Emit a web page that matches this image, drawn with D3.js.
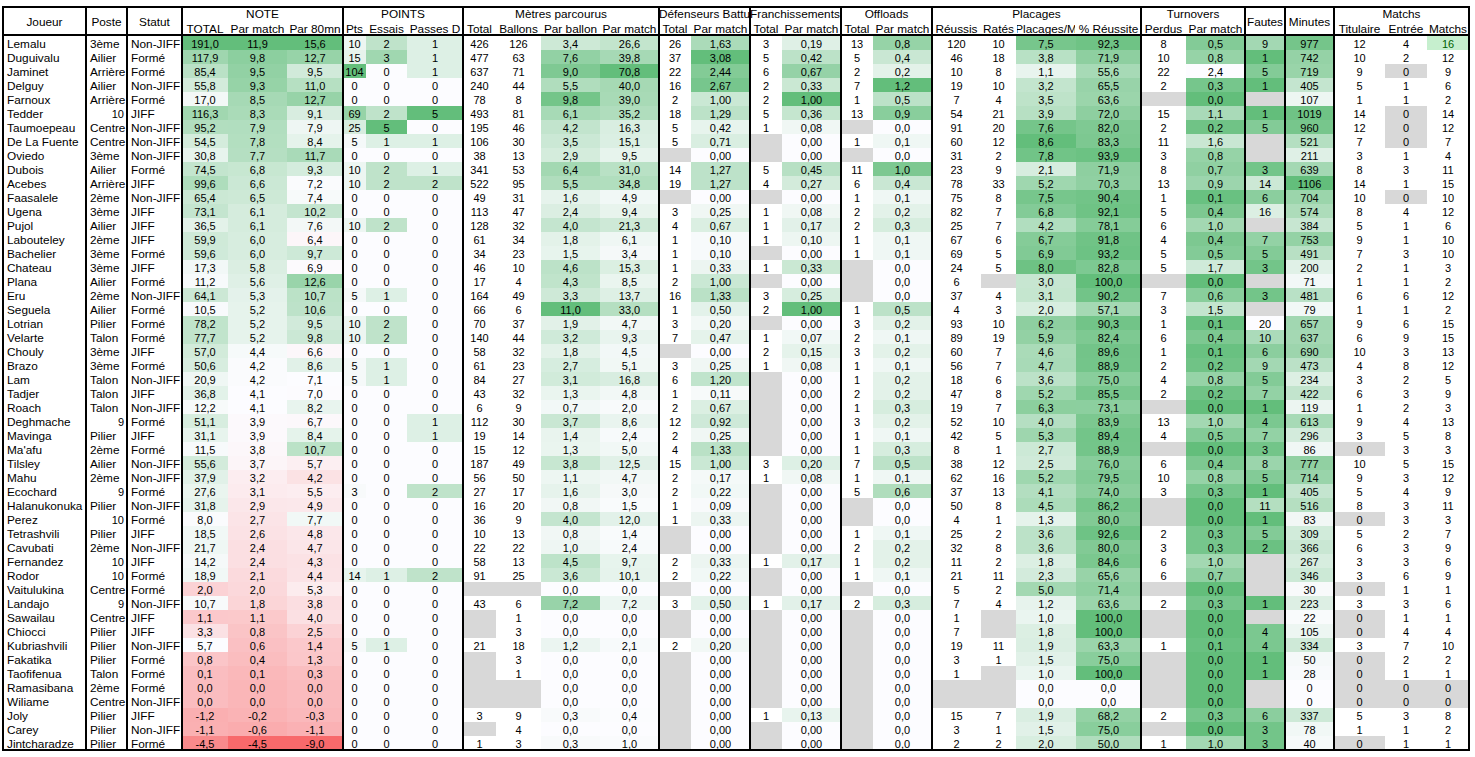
<!DOCTYPE html>
<html><head><meta charset="utf-8">
<script src="https://cdn.jsdelivr.net/npm/d3@7"></script>
<style>
body{margin:0;background:#fff}
text{font-family:Arial,"Liberation Sans",sans-serif;font-size:11px;fill:#000}
text.lbl{font-size:11.8px}
</style>
</head><body>
<svg id="c" width="1475" height="757"></svg>
<script>
// ---------------- DATA ----------------
const players=["Lemalu","Duguivalu","Jaminet","Delguy","Farnoux","Tedder","Taumoepeau","De La Fuente","Oviedo","Dubois","Acebes","Faasalele","Ugena","Pujol","Labouteley","Bachelier","Chateau","Plana","Eru","Seguela","Lotrian","Velarte","Chouly","Brazo","Lam","Tadjer","Roach","Deghmache","Mavinga","Ma'afu","Tilsley","Mahu","Ecochard","Halanukonuka","Perez","Tetrashvili","Cavubati","Fernandez","Rodor","Vaitulukina","Landajo","Sawailau","Chiocci","Kubriashvili","Fakatika","Taofifenua","Ramasibana","Wiliame","Joly","Carey","Jintcharadze"];
const postes=["3ème","Ailier","Arrière","Ailier","Arrière","10","Centre","Centre","3ème","Ailier","Arrière","2ème","3ème","Ailier","2ème","3ème","3ème","Ailier","2ème","Ailier","Pilier","Talon","3ème","3ème","Talon","Talon","Talon","9","Pilier","2ème","Ailier","2ème","9","Pilier","10","Pilier","2ème","10","10","Centre","9","Centre","Pilier","Pilier","Pilier","Talon","2ème","Centre","Pilier","Pilier","Pilier"];
const statuts=["Non-JIFF","Formé","Formé","Non-JIFF","Formé","JIFF","Non-JIFF","Non-JIFF","Non-JIFF","Formé","JIFF","Non-JIFF","JIFF","JIFF","JIFF","Formé","JIFF","Formé","Non-JIFF","Formé","Formé","Formé","JIFF","Formé","Non-JIFF","JIFF","Non-JIFF","Formé","JIFF","Formé","Non-JIFF","Non-JIFF","Formé","Non-JIFF","Formé","JIFF","Non-JIFF","JIFF","Formé","Formé","Non-JIFF","JIFF","JIFF","Non-JIFF","Formé","Formé","Formé","Non-JIFF","JIFF","Non-JIFF","Formé"];

const noteTotal=[191.0,117.9,85.4,55.8,17.0,116.3,95.2,54.5,30.8,74.5,99.6,65.4,73.1,36.5,59.9,59.6,17.3,11.2,64.1,10.5,78.2,77.7,57.0,50.6,20.9,36.8,12.2,51.1,31.1,11.5,55.6,37.9,27.6,31.8,8.0,18.5,21.7,14.2,18.9,2.0,10.7,1.1,3.3,5.7,0.8,0.1,0.0,0.0,-1.2,-1.1,-4.5];
const noteMatch=[11.9,9.8,9.5,9.3,8.5,8.3,7.9,7.8,7.7,6.8,6.6,6.5,6.1,6.1,6.0,6.0,5.8,5.6,5.3,5.2,5.2,5.2,4.4,4.2,4.2,4.1,4.1,3.9,3.9,3.8,3.7,3.2,3.1,2.9,2.7,2.6,2.4,2.4,2.1,2.0,1.8,1.1,0.8,0.6,0.4,0.1,0.0,0.0,-0.2,-0.6,-4.5];
const note80=[15.6,12.7,9.5,11.0,12.7,9.1,7.9,8.4,11.7,9.3,7.2,7.4,10.2,7.6,6.4,9.7,6.9,12.6,10.7,10.6,9.5,9.8,6.6,8.6,7.1,7.0,8.2,6.7,8.4,10.7,5.7,4.2,5.5,4.9,7.7,4.8,4.7,4.3,4.4,5.3,3.8,4.0,2.5,1.4,1.3,0.3,0.0,0.0,-0.3,-1.1,-9.0];

const pts=[10,15,104,0,0,69,25,5,0,10,10,0,0,10,0,0,0,0,5,0,10,10,0,5,5,0,0,0,0,0,0,0,3,0,0,0,0,0,14,0,0,0,0,5,0,0,0,0,0,0,0];
const essais=[2,3,0,0,0,2,5,1,0,2,2,0,0,2,0,0,0,0,1,0,2,2,0,1,1,0,0,0,0,0,0,0,0,0,0,0,0,0,1,0,0,0,0,1,0,0,0,0,0,0,0];
const passes=[1,1,1,0,0,5,0,1,0,1,2,0,0,0,0,0,0,0,0,0,0,0,0,0,0,0,0,1,1,0,0,0,2,0,0,0,0,0,2,0,0,0,0,0,0,0,0,0,0,0,0];

const metres=[426,477,637,240,78,493,195,106,38,341,522,49,113,128,61,34,46,17,164,66,70,140,58,61,84,43,6,112,19,15,187,56,27,16,36,10,22,58,91,null,43,null,null,21,null,null,null,null,3,null,1];
const ballons=[126,63,71,44,8,81,46,30,13,53,95,31,47,32,34,23,10,4,49,6,37,44,32,23,27,32,9,30,14,12,49,50,17,20,9,13,22,13,25,null,6,1,3,18,3,1,null,null,9,4,3];
const metresBallon=[3.4,7.6,9.0,5.5,9.8,6.1,4.2,3.5,2.9,6.4,5.5,1.6,2.4,4.0,1.8,1.5,4.6,4.3,3.3,11.0,1.9,3.2,1.8,2.7,3.1,1.3,0.7,3.7,1.4,1.3,3.8,1.1,1.6,0.8,4.0,0.8,1.0,4.5,3.6,0.0,7.2,0.0,0.0,1.2,0.0,0.0,0.0,0.0,0.3,0.0,0.3];
const metresMatch=[26.6,39.8,70.8,40.0,39.0,35.2,16.3,15.1,9.5,31.0,34.8,4.9,9.4,21.3,6.1,3.4,15.3,8.5,13.7,33.0,4.7,9.3,4.5,5.1,16.8,4.8,2.0,8.6,2.4,5.0,12.5,4.7,3.0,1.5,12.0,1.4,2.4,9.7,10.1,0.0,7.2,0.0,0.0,2.1,0.0,0.0,0.0,0.0,0.4,0.0,1.0];

const defTotal=[26,37,22,16,2,18,5,5,null,14,19,null,3,4,1,1,1,2,16,1,3,7,null,3,6,1,2,12,2,4,15,2,2,1,1,null,null,2,2,null,3,null,null,2,null,null,null,null,null,null,null];
const defMatch=[1.63,3.08,2.44,2.67,1.00,1.29,0.42,0.71,0.00,1.27,1.27,0.00,0.25,0.67,0.10,0.10,0.33,1.00,1.33,0.50,0.20,0.47,0.00,0.25,1.20,0.11,0.67,0.92,0.25,1.33,1.00,0.17,0.22,0.09,0.33,0.00,0.00,0.33,0.22,0.00,0.50,0.00,0.00,0.20,0.00,0.00,0.00,0.00,0.00,0.00,0.00];

const franTotal=[3,5,6,2,2,5,1,null,null,5,4,null,1,1,1,null,1,null,3,2,null,1,2,1,null,null,null,null,null,null,3,1,null,null,null,null,null,1,null,null,1,null,null,null,null,null,null,null,1,null,null];
const franMatch=[0.19,0.42,0.67,0.33,1.00,0.36,0.08,0.00,0.00,0.45,0.27,0.00,0.08,0.17,0.10,0.00,0.33,0.00,0.25,1.00,0.00,0.07,0.15,0.08,0.00,0.00,0.00,0.00,0.00,0.00,0.20,0.08,0.00,0.00,0.00,0.00,0.00,0.17,0.00,0.00,0.17,0.00,0.00,0.00,0.00,0.00,0.00,0.00,0.13,0.00,0.00];

const offTotal=[13,5,2,7,1,13,null,1,null,11,6,1,2,2,1,1,null,null,null,1,3,2,3,1,1,2,1,3,1,1,7,1,5,null,null,1,2,1,1,null,2,null,null,null,null,null,null,null,null,null,null];
const offMatch=[0.8,0.4,0.2,1.2,0.5,0.9,0.0,0.1,0.0,1.0,0.4,0.1,0.2,0.3,0.1,0.1,0.0,0.0,0.0,0.5,0.2,0.1,0.2,0.1,0.2,0.2,0.3,0.2,0.1,0.3,0.5,0.1,0.6,0.0,0.0,0.1,0.2,0.2,0.1,0.0,0.3,0.0,0.0,0.0,0.0,0.0,0.0,0.0,0.0,0.0,0.0];

const placReussis=[120,46,10,19,7,54,91,60,31,23,78,75,82,25,67,69,24,6,37,4,93,89,60,56,18,47,19,52,42,8,38,62,37,50,4,25,32,11,21,5,7,1,7,19,3,1,null,null,15,3,2];
const placRates=[10,18,8,10,4,21,20,12,2,9,33,8,7,7,6,5,5,null,4,3,10,19,7,7,6,8,7,10,5,1,12,16,13,8,1,2,8,2,11,2,4,null,null,11,1,null,null,null,7,1,2];
const placParMatch=[7.5,3.8,1.1,3.2,3.5,3.9,7.6,8.6,7.8,2.1,5.2,7.5,6.8,4.2,6.7,6.9,8.0,3.0,3.1,2.0,6.2,5.9,4.6,4.7,3.6,5.2,6.3,4.0,5.3,2.7,2.5,5.2,4.1,4.5,1.3,3.6,3.6,1.8,2.3,5.0,1.2,1.0,1.8,1.9,1.5,1.0,0.0,0.0,1.9,1.5,2.0];
const placPct=[92.3,71.9,55.6,65.5,63.6,72.0,82.0,83.3,93.9,71.9,70.3,90.4,92.1,78.1,91.8,93.2,82.8,100.0,90.2,57.1,90.3,82.4,89.6,88.9,75.0,85.5,73.1,83.9,89.4,88.9,76.0,79.5,74.0,86.2,80.0,92.6,80.0,84.6,65.6,71.4,63.6,100.0,100.0,63.3,75.0,100.0,0.0,0.0,68.2,75.0,50.0];

const toPerdus=[8,10,22,2,null,15,2,11,3,8,13,1,5,6,4,5,5,null,7,3,1,6,1,2,4,2,null,13,4,null,6,10,3,null,null,2,3,6,6,null,2,null,null,1,null,null,null,null,2,null,1];
const toMatch=[0.5,0.8,2.4,0.3,0.0,1.1,0.2,1.6,0.8,0.7,0.9,0.1,0.4,1.0,0.4,0.5,1.7,0.0,0.6,1.5,0.1,0.4,0.1,0.2,0.8,0.2,0.0,1.0,0.5,0.0,0.4,0.8,0.3,0.0,0.0,0.3,0.3,1.0,0.7,0.0,0.3,0.0,0.0,0.1,0.0,0.0,0.0,0.0,0.3,0.0,1.0];

const fautes=[9,1,5,1,null,1,5,null,null,3,14,6,16,null,7,5,3,null,3,null,20,10,6,9,5,7,1,4,7,3,8,5,1,11,1,5,2,null,null,null,1,null,4,4,1,1,null,null,6,3,3];
const minutes=[977,742,719,405,107,1019,960,521,211,639,1106,704,574,384,753,491,200,71,481,79,657,637,690,473,234,422,119,613,296,86,777,714,405,516,83,309,366,267,346,30,223,22,105,334,50,28,0,0,337,78,40];

const titulaire=[12,10,9,5,1,14,12,7,3,8,14,10,8,5,9,7,2,1,6,1,9,6,10,4,3,6,1,9,3,0,10,9,5,8,0,5,6,3,3,0,3,0,0,3,0,0,0,0,5,1,0];
const entree=[4,2,0,1,1,0,0,0,1,3,1,0,4,1,1,3,1,1,6,1,6,9,3,8,2,3,2,4,5,3,5,3,4,3,3,2,3,3,6,1,3,1,4,7,2,1,0,0,3,1,1];
const matchs=[16,12,9,6,2,14,12,7,4,11,15,10,12,6,10,10,3,2,12,2,15,15,13,12,5,9,3,13,8,3,15,12,9,11,3,7,9,6,9,1,6,1,4,10,2,1,0,0,8,2,1];

const groupLabels=["NOTE","POINTS","Mètres parcourus","Défenseurs Battus","Franchissements","Offloads","Placages","Turnovers","Matchs"];

// ---------------- RENDER ----------------
const GREEN="#63BE7B", WHITE="#FCFCFF", RED="#F8696B", GREY="#D8D8D8";
const loc=d3.formatLocale({decimal:",",thousands:" ",grouping:[3],currency:["","€"],minus:"-"});
const f0=loc.format("d"), f1=loc.format(".1f"), f2=loc.format(".2f");

const tri=(dom)=>d3.scaleLinear().domain(dom).range([RED,WHITE,GREEN]).clamp(true);
const up=(arr)=>d3.scaleLinear().domain([0,d3.max(arr)]).range([WHITE,GREEN]).clamp(true);
const down=(lo,hi)=>d3.scaleLinear().domain([lo,hi]).range([GREEN,WHITE]).clamp(true);

const edges=[3,86,127,182,228,287,343,366,407,463,496,541,600,659,691,750,782,841,873,932,981,1016,1076,1141,1186,1245,1285,1334,1385,1427,1469];

const mxMatch=d3.max(matchs);
const cols=[
 {h:"Joueur",span:true,data:players,align:"left",fmt:d=>d},
 {h:"Poste",span:true,data:postes,align:"poste",fmt:d=>d},
 {h:"Statut",span:true,data:statuts,align:"left",fmt:d=>d},
 {g:0,h:"TOTAL",data:noteTotal,fmt:f1,color:tri([-7.4,5.7,d3.max(noteTotal)])},
 {g:0,h:"Par match",data:noteMatch,fmt:f1,color:tri([d3.min(noteMatch),d3.median(noteMatch),d3.max(noteMatch)])},
 {g:0,h:"Par 80mn",data:note80,fmt:f1,color:tri([d3.min(note80),d3.median(note80),d3.max(note80)])},
 {g:1,h:"Pts",data:pts,fmt:f0,color:up(pts)},
 {g:1,h:"Essais",data:essais,fmt:f0,color:up(essais)},
 {g:1,h:"Passes D",data:passes,fmt:f0,color:up(passes)},
 {g:2,h:"Total",data:metres,fmt:f0,blank:true},
 {g:2,h:"Ballons",data:ballons,fmt:f0,blank:true},
 {g:2,h:"Par ballon",data:metresBallon,fmt:f1,color:up(metresBallon)},
 {g:2,h:"Par match",data:metresMatch,fmt:f1,color:up(metresMatch)},
 {g:3,h:"Total",data:defTotal,fmt:f0,blank:true},
 {g:3,h:"Par match",data:defMatch,fmt:f2,color:up(defMatch)},
 {g:4,h:"Total",data:franTotal,fmt:f0,blank:true},
 {g:4,h:"Par match",data:franMatch,fmt:f2,color:up(franMatch)},
 {g:5,h:"Total",data:offTotal,fmt:f0,blank:true},
 {g:5,h:"Par match",data:offMatch,fmt:f1,color:up(offMatch)},
 {g:6,h:"Réussis",data:placReussis,fmt:f0,blank:true},
 {g:6,h:"Ratés",data:placRates,fmt:f0,blank:true},
 {g:6,h:"Placages/M",data:placParMatch,fmt:f1,color:up(placParMatch)},
 {g:6,h:"% Réussite",data:placPct,fmt:f1,color:up(placPct)},
 {g:7,h:"Perdus",data:toPerdus,fmt:f0,blank:true},
 {g:7,h:"Par match",data:toMatch,fmt:f1,color:down(0,d3.max(toMatch))},
 {h:"Fautes",span:true,data:fautes,fmt:f0,blank:true,color:down(d3.min(fautes.filter(v=>v!=null)),d3.max(fautes))},
 {h:"Minutes",span:true,data:minutes,fmt:f0,color:up(minutes)},
 {g:8,h:"Titulaire",data:titulaire,fmt:f0,zeroGrey:true},
 {g:8,h:"Entrée",data:entree,fmt:f0,zeroGrey:true},
 {g:8,h:"Matchs",data:matchs,fmt:f0,zeroGrey:true,top:mxMatch}
];
cols.forEach((c,i)=>{c.x0=edges[i];c.x1=edges[i+1];});

const svg=d3.select("#c");
const TOP=7, HMID=21, HBOT=35, BOT=750;
const y=d3.scaleBand().domain(players).range([36,BOT]);

const body=svg.append("g");
cols.forEach((c)=>{
  const g=body.append("g");
  players.forEach((p,i)=>{
    const v=c.data[i];
    let fill="#fff", txt=c.fmt(v), tcol="#000";
    if(v==null){ fill=GREY; txt=""; }
    else if(c.zeroGrey && v===0){ fill=GREY; }
    else if(c.top!==undefined && v===c.top){ fill="#C6EFCE"; tcol="#006100"; }
    else if(c.color){ fill=c.color(v); }
    g.append("rect").attr("x",c.x0).attr("y",y(p)).attr("width",c.x1-c.x0).attr("height",y.bandwidth()).attr("fill",fill);
    if(txt!==""){
      let tx,anchor,isLbl=false;
      if(c.align==="left"){tx=c.x0+4;anchor="start";isLbl=true;}
      else if(c.align==="poste"){ if(/^\d+$/.test(v)){tx=c.x1-3;anchor="end";} else {tx=c.x0+4;anchor="start";isLbl=true;} }
      else {tx=(c.x0+c.x1)/2;anchor="middle";}
      g.append("text").attr("class",isLbl?"lbl":null).attr("x",tx).attr("y",y(p)+11.5).attr("text-anchor",anchor).style("fill",tcol).text(txt);
    }
  });
});

// header
const hdr=svg.append("g");
hdr.append("rect").attr("x",edges[0]).attr("y",TOP).attr("width",edges[edges.length-1]-edges[0]).attr("height",HBOT-TOP).attr("fill","#fff");
const defs=svg.append("defs");
cols.forEach((c,i)=>{
  const id="hc"+i;
  defs.append("clipPath").attr("id",id).append("rect").attr("x",c.x0+1).attr("y",TOP).attr("width",c.x1-c.x0-2).attr("height",HBOT-TOP);
  hdr.append("text").attr("class","lbl").attr("clip-path",`url(#${id})`)
    .attr("x",(c.x0+c.x1)/2).attr("y",c.span?25.5:32.5).attr("text-anchor","middle").text(c.h);
});
groupLabels.forEach((lab,gi)=>{
  const gc=cols.filter(c=>c.g===gi);
  const x0=gc[0].x0, x1=gc[gc.length-1].x1;
  const id="clip"+gi;
  defs.append("clipPath").attr("id",id).append("rect").attr("x",x0+1).attr("y",TOP).attr("width",x1-x0-2).attr("height",HMID-TOP);
  const t=hdr.append("text").attr("class","lbl").attr("clip-path",`url(#${id})`).attr("y",18).text(lab);
  if(lab==="Défenseurs Battus"||lab==="Franchissements"){ t.attr("x",x0).attr("text-anchor","start"); }
  else { t.attr("x",(x0+x1)/2).attr("text-anchor","middle"); }
});

// borders
const lines=svg.append("g").attr("stroke","#000").attr("stroke-width",2);
const thick=[0,1,2,3,6,9,13,15,17,19,23,25,26,27,30];
thick.forEach(i=>{
  lines.append("line").attr("x1",edges[i]).attr("x2",edges[i]).attr("y1",TOP-1).attr("y2",BOT+1);
});
[TOP,HBOT,BOT].forEach(yy=>{
  lines.append("line").attr("x1",edges[0]-1).attr("x2",edges[edges.length-1]+1).attr("y1",yy).attr("y2",yy);
});
</script>
</body></html>
